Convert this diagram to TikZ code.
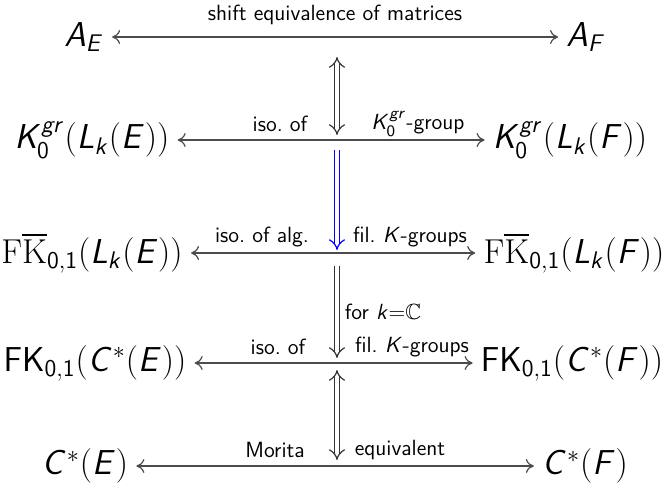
\documentclass[tikz,border=0pt]{standalone}
\usepackage{amsmath}
\usepackage{amssymb}
\renewcommand{\familydefault}{\sfdefault}
\DeclareMathAlphabet{\mathsfit}{OT1}{cmss}{m}{sl}
\newcommand{\si}[1]{\mathsfit{#1}}
\usetikzlibrary{arrows.meta, positioning}

\begin{document}
\begin{tikzpicture}[
    x=0.5pt, y=-0.5pt,
    obj/.style={font=\LARGE, inner sep=1pt},
    lbl/.style={font=\fontsize{11}{13}\selectfont, inner sep=1pt},
    harrow/.style={{To[length=4pt,width=7pt]}-{To[length=4pt,width=7pt]}, draw=black!70, semithick, shorten <=3pt, shorten >=3pt},
    varrow/.style={double, double distance=2.2pt, semithick, draw=black!80},
    vtip/.style={-{Implies}},
    vtips/.style={{Implies}-{Implies}}
]
\useasboundingbox (0,0) rectangle (663,492);

% objects
\node[obj] (ae) at (84,37) {$\si{A}_{\si{E}}$};
\node[obj] (af) at (586,37) {$\si{A}_{\si{F}}$};
\node[obj] (kgre) at (92,140) {$\si{K}_{\mathsf{0}}^{\si{gr}}(\si{L}_{\si{k}}(\si{E}))$};
\node[obj] (kgrf) at (570,140) {$\si{K}_{\mathsf{0}}^{\si{gr}}(\si{L}_{\si{k}}(\si{F}))$};
\node[obj] (fkbare) at (92,253) {$\mathrm{F}\overline{\mathrm{K}}_{\mathsf{0,1}}(\si{L}_{\si{k}}(\si{E}))$};
\node[obj] (fkbarf) at (574,253) {$\mathrm{F}\overline{\mathrm{K}}_{\mathsf{0,1}}(\si{L}_{\si{k}}(\si{F}))$};
\node[obj] (fke) at (95,363) {$\mathsf{FK}_{\mathsf{0,1}}(\si{C}^*(\si{E}))$};
\node[obj] (fkf) at (572,363) {$\mathsf{FK}_{\mathsf{0,1}}(\si{C}^*(\si{F}))$};
\node[obj] (ce) at (85,466) {$\si{C}^*(\si{E})$};
\node[obj] (cf) at (585,466) {$\si{C}^*(\si{F})$};

% horizontal arrows
\draw[harrow] (ae) -- (af);
\draw[harrow] (kgre) -- (kgrf);
\draw[harrow] (fkbare) -- (fkbarf);
\draw[harrow] (fke) -- (fkf);
\draw[harrow] (ce) -- (cf);

% ends of the vertical arrows
\coordinate (v1a) at (337,57);
\coordinate (v1b) at (337,135);
\coordinate (v2a) at (337,150);
\coordinate (v2b) at (337,250);
\coordinate (v3a) at (337,266);
\coordinate (v3b) at (337,358);
\coordinate (v4a) at (337,370);
\coordinate (v4b) at (337,460);

\draw[varrow, vtips] (v1a) -- (v1b);
\draw[varrow, vtip, draw=blue] (v2a) -- (v2b);
\draw[varrow, vtip] (v3a) -- (v3b);
\draw[varrow, vtips] (v4a) -- (v4b);

% labels
\node[lbl] (shift) at (335,15) {shift equivalence of matrices};
\node[lbl] (iso1) at (280,124) {iso.\ of};
\node[lbl] (grp1) at (418,124) {$\si{K}_{\mathsf{0}}^{\si{gr}}$-group};
\node[lbl] (iso2) at (262,237) {iso.\ of alg.};
\node[lbl] (grp2) at (410,237) {fil.\ $\si{K}$-groups};
\node[lbl] (kc) at (383,312) {for $\si{k}$=$\mathbb{C}$};
\node[lbl] (iso3) at (278,347) {iso.\ of};
\node[lbl] (grp3) at (412,347) {fil.\ $\si{K}$-groups};
\node[lbl] (mor) at (275,450) {Morita};
\node[lbl] (equ) at (400,450) {equivalent};

\end{tikzpicture}
\end{document}
